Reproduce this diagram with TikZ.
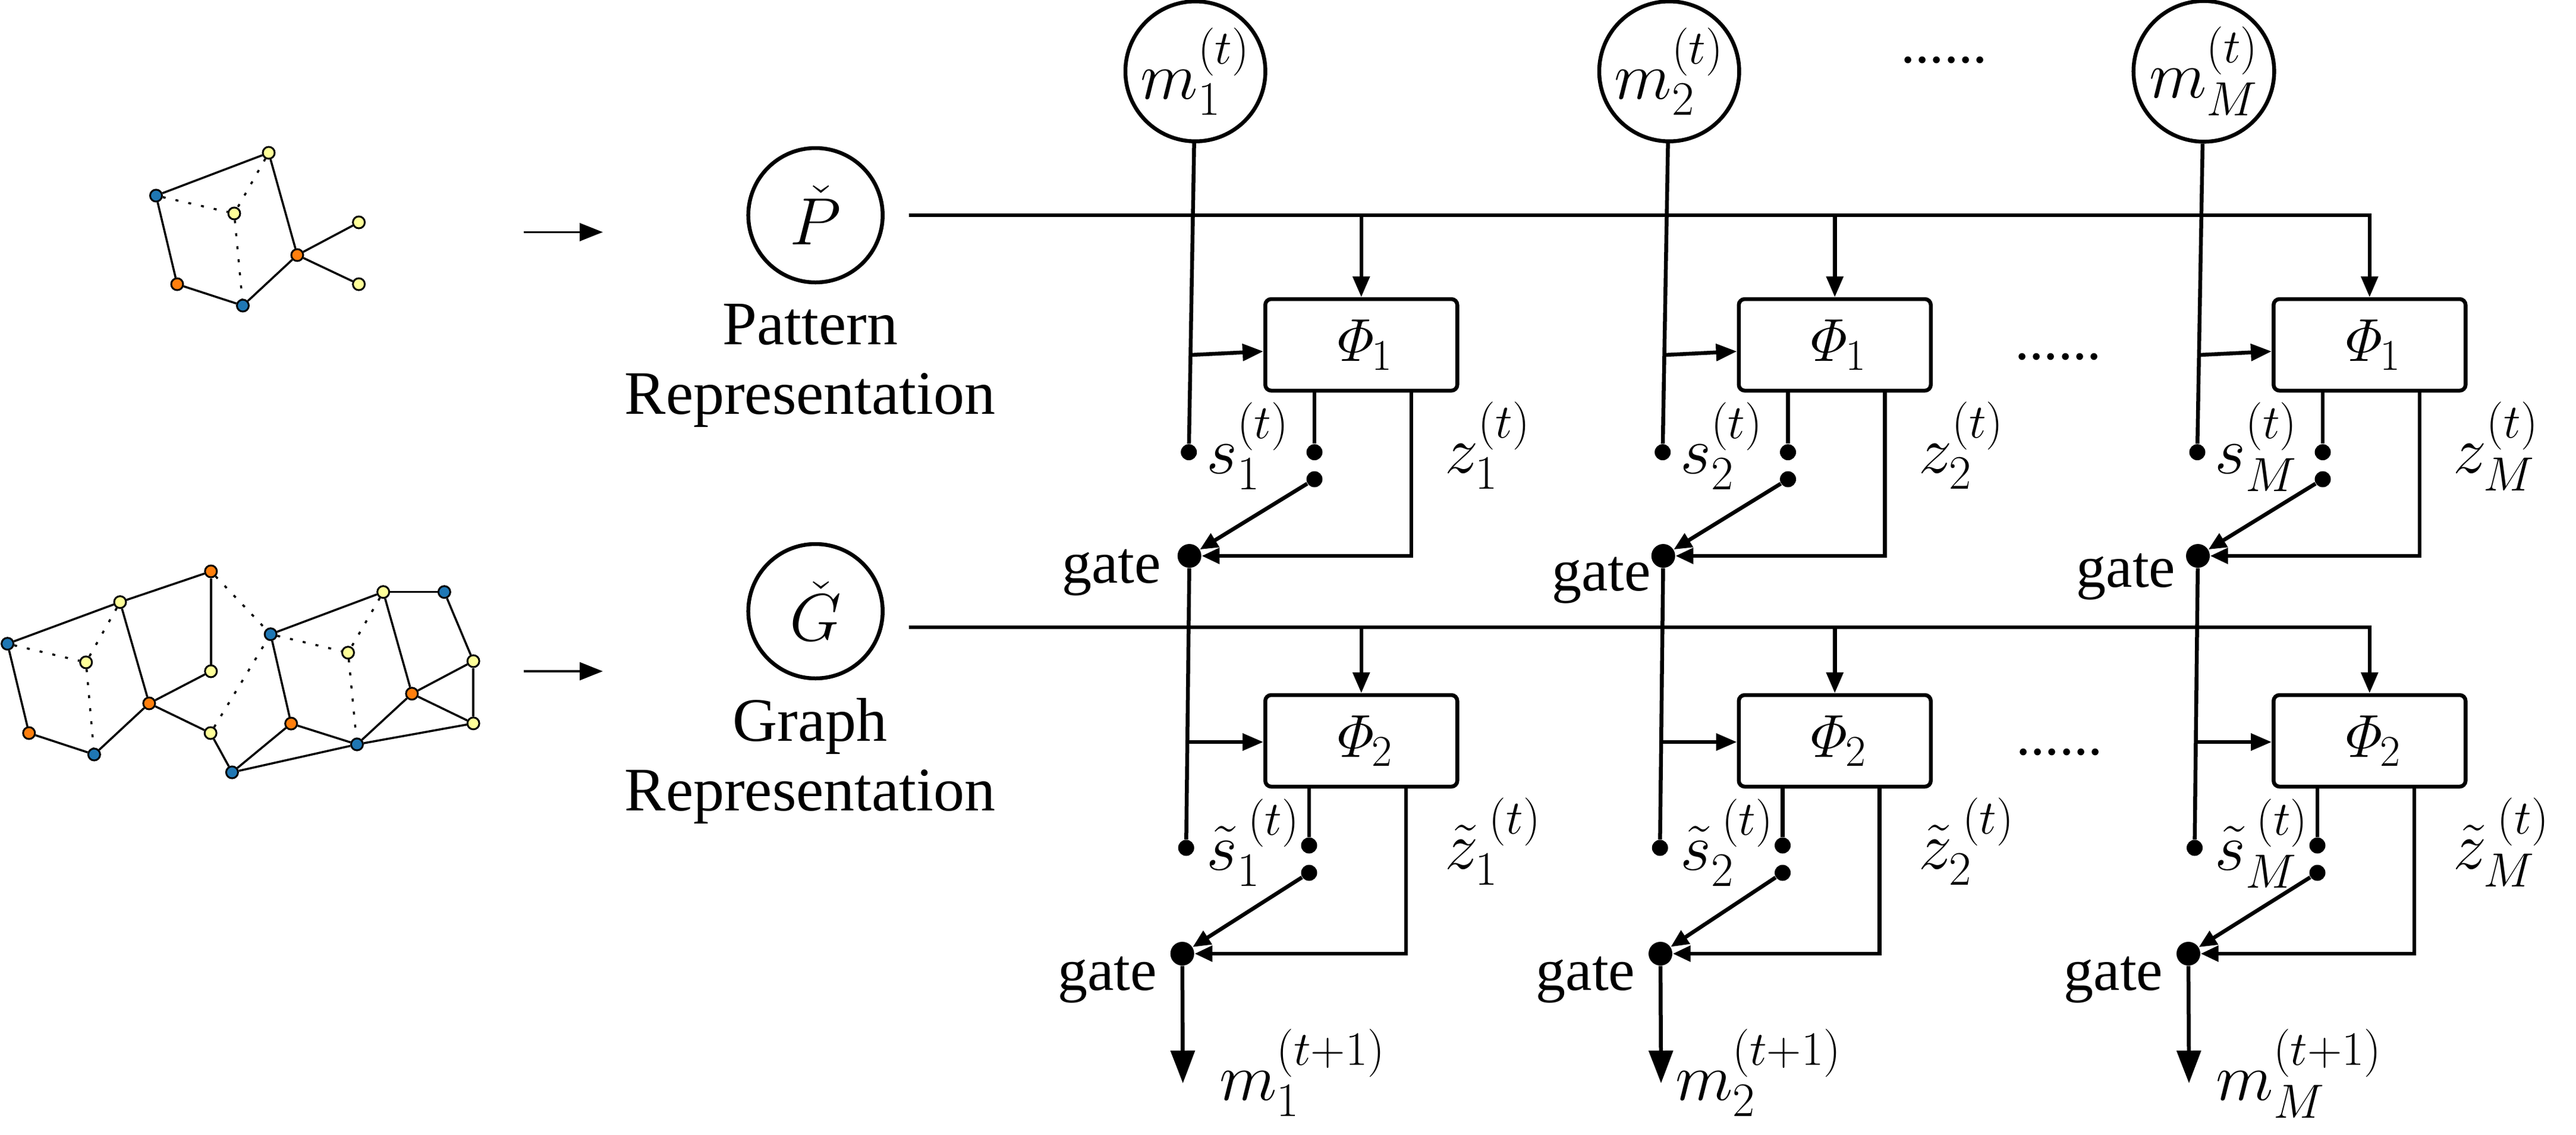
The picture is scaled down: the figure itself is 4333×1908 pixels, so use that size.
\RequirePackage{fix-cm}
\documentclass[tikz,border=0pt]{standalone}
\usepackage{amsmath}
\usepackage[no-math]{fontspec}
\setmainfont{Liberation Serif}
\usetikzlibrary{arrows.meta,calc}
\DeclareMathSizes{32}{32}{23}{17}
\DeclareMathSizes{29}{29}{21}{15}
\newcommand{\rsup}[1]{^{\raisebox{0.12em}{$\scriptstyle #1$}}}
\definecolor{nblue}{HTML}{1F77B4}
\definecolor{norange}{HTML}{FF7F0E}
\definecolor{nyellow}{HTML}{FFFF99}
\begin{document}
\begin{tikzpicture}[x=0.1mm,y=-0.1mm,
  gnode/.style={circle,draw=black,line width=0.3mm,minimum size=2mm,inner sep=0pt},
  gb/.style={gnode,fill=nblue}, go/.style={gnode,fill=norange}, gy/.style={gnode,fill=nyellow},
  gedge/.style={line width=0.35mm},
  gdot/.style={line width=0.35mm,dash pattern=on 0.5mm off 1.7mm},
  main/.style={line width=0.65mm},
  rep/.style={circle,draw,line width=0.65mm,minimum size=22.6mm,inner sep=0pt,font=\fontsize{32}{38}\selectfont},
  phibox/.style={draw,line width=0.65mm,rounded corners=1mm,minimum width=32.3mm,minimum height=15.4mm,inner sep=0pt,font=\fontsize{29}{34}\selectfont},
  sdot/.style={circle,fill,inner sep=0pt,minimum size=2.7mm},
  gatedot/.style={circle,fill,inner sep=0pt,minimum size=4mm},
  lab/.style={inner sep=0pt,font=\fontsize{32}{38}\selectfont,anchor=base west},
  txt/.style={inner sep=0pt,font=\fontsize{29.6}{33.1}\selectfont,align=center,anchor=north},
  gatetxt/.style={inner sep=0pt,font=\fontsize{28.5}{34}\selectfont,anchor=base east},
  dotstxt/.style={inner sep=0pt,font=\fontsize{27.6}{33}\selectfont,anchor=base},
  arr/.style={-{Triangle[length=3.5mm,width=2.8mm]}},
  garr/.style={-{Triangle[length=3mm,width=2.6mm]}},
  oarr/.style={-{Triangle[length=5.5mm,width=4mm]}},
  sarr/.style={line width=0.35mm,-{Triangle[length=3.9mm,width=3mm]}},
]
\useasboundingbox (0,0) rectangle (4333,1908);

% ---------- small pattern graph ----------
\node[gb] (pn1) at (262.5,329) {};
\node[gy] (pn2) at (452,257) {};
\node[gy] (pn3) at (394,359) {};
\node[go] (pn4) at (298,478) {};
\node[gb] (pn5) at (408.5,514) {};
\node[go] (pn6) at (500,429) {};
\node[gy] (pn7) at (603.6,374) {};
\node[gy] (pn8) at (603.6,478) {};
\foreach \a/\b in {1/2,1/4,4/5,5/6,2/6,6/7,6/8} \draw[gedge] (pn\a) -- (pn\b);
\foreach \a/\b in {1/3,2/3,3/5} \draw[gdot] (pn\a) -- (pn\b);

% ---------- big graph ----------
\node[gb] (gn1) at (12.6,1082.7) {};
\node[gy] (gn2) at (202,1012.7) {};
\node[go] (gn3) at (354.8,961) {};
\node[gy] (gn4) at (144.7,1114) {};
\node[go] (gn5) at (48.8,1233) {};
\node[gb] (gn6) at (158.4,1269) {};
\node[go] (gn7) at (250.9,1183) {};
\node[gy] (gn8) at (354.8,1129) {};
\node[gy] (gn9) at (354.2,1233) {};
\node[gb] (gn10) at (390.4,1299) {};
\node[gb] (gn11) at (455.2,1066.7) {};
\node[gy] (gn12) at (585.5,1097.7) {};
\node[go] (gn13) at (489.7,1217) {};
\node[gb] (gn14) at (600.5,1252) {};
\node[gy] (gn15) at (644.7,995.7) {};
\node[gb] (gn16) at (747.4,995.7) {};
\node[gy] (gn17) at (796.2,1112) {};
\node[go] (gn18) at (692.9,1166.7) {};
\node[gy] (gn19) at (796.2,1216.7) {};
\foreach \a/\b in {1/2,2/3,1/5,5/6,6/7,2/7,3/8,7/8,7/9,9/10,10/13,11/13,11/15,15/16,16/17,15/18,17/18,18/19,17/19,13/14,14/18,14/19,10/14}
  \draw[gedge] (gn\a) -- (gn\b);
\foreach \a/\b in {1/4,2/4,4/6,3/11,9/11,11/12,15/12,12/14}
  \draw[gdot] (gn\a) -- (gn\b);

% ---------- input arrows ----------
\coordinate (pas) at (880.6,390.4);
\coordinate (pae) at (1014,390.4);
\coordinate (gas) at (880.6,1129);
\coordinate (gae) at (1014,1129);
\draw[sarr] (pas) -- (pae);
\draw[sarr] (gas) -- (gae);

% ---------- representations ----------
\node[rep] (P) at (1371.7,362) {$\check{P}$};
\node[rep] (G) at (1371.7,1028) {$\check{G}$};
\node[txt] (Plab) at (1362.7,511) {Pattern\\Representation};
\node[txt] (Glab) at (1362.7,1174) {Graph\\Representation};

\coordinate (pl) at (1528.6,362);
\coordinate (gl) at (1528.6,1055);

% ---------- columns ----------
\foreach \cn/\mx/\bx/\sublab/\gta/\gya/\gx/\mo in
  {1/2010.7/2128/1/47/980/-22/40, 2/2807.7/2924.5/2/20/993/-14.7/10, M/3707/3824/M/37/987/-26/20}
{
  \node[rep] (m\cn) at (\mx,120) {$m_{\sublab}\rsup{(t)}$};
  \node[phibox] (phia\cn) at (\bx+161.75,580) {$\mathit{\Phi}_1$};
  \node[phibox] (phib\cn) at (\bx+161.75,1246) {$\mathit{\Phi}_2$};
  \node[sdot] (sa\cn) at (\mx-11,760.6) {};
  \node[sdot] (oa\cn) at (\bx+83,760.6) {};
  \node[sdot] (ob\cn) at (\bx+83,806) {};
  \node[gatedot] (gatea\cn) at (\mx-10,935) {};
  \node[sdot] (sb\cn) at (\mx-15.5,1426) {};
  \node[sdot] (oc\cn) at (\bx+74,1422) {};
  \node[sdot] (od\cn) at (\bx+74,1468) {};
  \node[gatedot] (gateb\cn) at (\mx+\gx,1604) {};
  \coordinate (tip\cn) at (\mx+\gx+1,1822);
  \coordinate (za\cn) at (\bx+246,0);
  \coordinate (zb\cn) at (\bx+237,0);
  \coordinate (ja\cn) at (\mx-7.5,597);
  \coordinate (jb\cn) at (\mx-13.5,1248);
  % row 1
  \draw[main] (m\cn) -- (sa\cn);
  \draw[main,arr] (ja\cn) -- ($(phia\cn.west)+(0,11)$);
  \draw[main] (phia\cn.south -| oa\cn) -- (oa\cn);
  \draw[main,garr] (ob\cn) -- (gatea\cn);
  \draw[main,garr] (phia\cn.south -| za\cn) |- (gatea\cn);
  \draw[main] (gatea\cn) -- (sb\cn);
  % row 2
  \draw[main,arr] (jb\cn) -- (phib\cn.west |- jb\cn);
  \draw[main] (phib\cn.south -| oc\cn) -- (oc\cn);
  \draw[main,garr] (od\cn) -- (gateb\cn);
  \draw[main,garr] (phib\cn.south -| zb\cn) |- (gateb\cn);
  \draw[main,oarr] (gateb\cn) -- (tip\cn);
  % labels
  \node[lab] (ls\cn) at (\mx+18,796) {$s_{\sublab}\rsup{(t)}$};
  \node[lab] (lz\cn) at (\bx+302,795) {$z_{\sublab}\rsup{(t)}$};
  \node[lab] (lst\cn) at (\mx+18,1463) {$\tilde{s}_{\sublab}\rsup{\mkern4mu(t)}$};
  \node[lab] (lzt\cn) at (\bx+302,1461) {$\tilde{z}_{\sublab}\rsup{\mkern4mu(t)}$};
  \node[lab] (lm\cn) at (\mx+\mo,1850) {$m_{\sublab}\rsup{(t+1)}$};
  \node[gatetxt] (lga\cn) at (\mx-10-\gta,\gya) {gate};
  \node[gatetxt] (lgb\cn) at (\mx+\gx-42,1665) {gate};
}

% ---------- broadcast lines ----------
\draw[main,arr] (pl) -| (phiaM.north);
\draw[main,arr] (gl) -| (phibM.north);
\foreach \cn in {1,2} {
  \draw[main,arr] (phia\cn.north |- pl) -- (phia\cn.north);
  \draw[main,arr] (phib\cn.north |- gl) -- (phib\cn.north);
}

% ---------- ellipses ----------
\node[dotstxt] (d0) at (3270,105) {......};
\node[dotstxt] (d1) at (3462,604) {......};
\node[dotstxt] (d2) at (3464,1269) {......};
\end{tikzpicture}
\end{document}
